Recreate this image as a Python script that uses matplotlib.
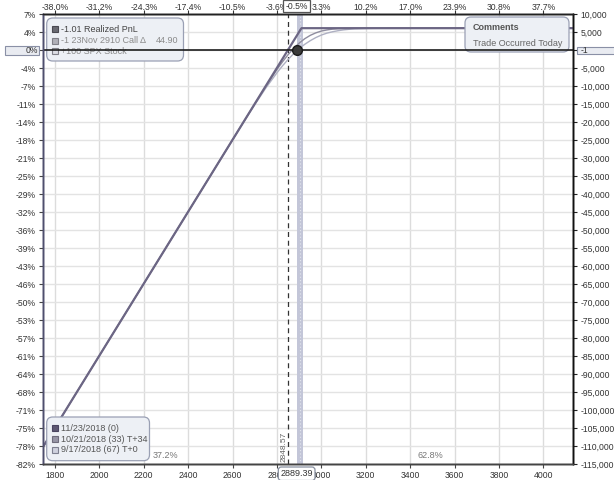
import matplotlib
matplotlib.use('Agg')
import matplotlib.pyplot as plt
from matplotlib.patches import FancyBboxPatch, Rectangle
from matplotlib.transforms import IdentityTransform

plt.rcParams['font.family'] = ['Liberation Sans', 'DejaVu Sans']

# ---------------- data ----------------
x_ticks = [1800, 2000, 2200, 2400, 2600, 2800, 3000, 3200, 3400, 3600, 3800, 4000]
bottom_labels = ['1800', '2000', '2200', '2400', '2600', '2800', '3000', '3200', '3400', '3600', '3800', '4000']
top_labels = ['-38.0%', '-31.2%', '-24.3%', '-17.4%', '-10.5%', '-3.6%', '3.3%', '10.2%',
              '17.0%', '23.9%', '30.8%', '37.7%']
y_ticks = list(range(10000, -115001, -5000))
left_labels = ['7%', '4%', '', '-4%', '-7%', '-11%', '-14%', '-18%', '-21%', '-25%', '-29%', '-32%',
               '-36%', '-39%', '-43%', '-46%', '-50%', '-53%', '-57%', '-61%', '-64%', '-68%',
               '-71%', '-75%', '-78%', '-82%']
right_labels = ['10,000', '5,000', '', '-5,000', '-10,000', '-15,000', '-20,000', '-25,000', '-30,000',
                '-35,000', '-40,000', '-45,000', '-50,000', '-55,000', '-60,000', '-65,000', '-70,000',
                '-75,000', '-80,000', '-85,000', '-90,000', '-95,000', '-100,000', '-105,000',
                '-110,000', '-115,000']

exp_x = [1740, 2910, 4140]
exp_pnl = [-110857, 6143, 6143]

t34_x = [1740, 2600, 2650, 2700, 2750, 2800, 2825, 2850, 2875, 2900, 2925, 2950, 2975, 3000,
         3025, 3050, 3075, 3100, 3150, 3200, 4140]
t34_pnl = [-110857, -24857, -19857, -14887, -10007, -5337, -3197, -1217, 513, 1993, 3213, 4153,
           4843, 5353, 5653, 5883, 6003, 6073, 6123, 6140, 6143]

t0_x = [1740, 2600, 2650, 2700, 2750, 2800, 2825, 2850, 2875, 2900, 2925, 2950, 2975, 3000,
        3025, 3050, 3075, 3100, 3125, 3150, 3200, 3250, 3300, 4140]
t0_pnl = [-110857, -24877, -19934, -15117, -10457, -6237, -4307, -2547, -957, 473, 1663, 2673,
          3533, 4233, 4763, 5143, 5443, 5673, 5830, 5963, 6063, 6113, 6133, 6143]

current_price = 2889.39
realized_pnl = -1.01
breakeven = 2848.57
band_lo, band_hi = 2891, 2918
prob_below = '37.2%'
prob_above = '62.8%'

legend_top = ['-1.01 Realized PnL', '-1 23Nov 2910 Call \u0394', '+100 SPX Stock']
legend_top_val = '44.90'
legend_bottom = ['11/23/2018 (0)', '10/21/2018 (33) T+34', '9/17/2018 (67) T+0']

# ---------------- figure ----------------
W, H = 614, 480
fig = plt.figure(figsize=(W / 100, H / 100), dpi=100)
fig.patch.set_facecolor('white')

L, R, T, B = 42.7, 573.3, 14.3, 464.0
ax = fig.add_axes([L / W, 1 - B / H, (R - L) / W, (B - T) / H])
ax.set_xlim(1744.6, 4134.7)
ax.set_ylim(-115000, 10000)
ax.set_facecolor('white')

IT = IdentityTransform()


def py(y):
    return H - y


# grid
for xv in x_ticks:
    ax.axvline(xv, color='#dcdcdc', lw=1.0, zorder=1)
for yv in y_ticks:
    ax.axhline(yv, color='#e3e3e3', lw=1.0, zorder=1)

# shaded band around current price
ax.axvspan(band_lo, band_hi, color='#c3c6d8', lw=0, zorder=2)
ax.axvline((band_lo + band_hi) / 2, color='#e4e6ee', lw=0.8, ls=(0, (1, 2)), zorder=2.1)

# breakeven dashed line
ax.axvline(breakeven, color='#333333', lw=0.9, ls=(0, (4, 3)), zorder=3)

# P&L lines
ax.plot(t0_x, t0_pnl, color='#aeb0c2', lw=1.0, zorder=4)
ax.plot(t34_x, t34_pnl, color='#8f8d9f', lw=1.0, zorder=4.2)
ax.plot(exp_x, exp_pnl, color='#6c6684', lw=1.6, zorder=4.5)

# zero line on top
ax.axhline(0, color='#1e1e1e', lw=1.2, zorder=7)
ax.plot([current_price], [realized_pnl], 'o', ms=7, color='#3a3a3a', mec='#1a1a1a', zorder=8)

# axes ticks
ax.set_xticks(x_ticks)
ax.set_xticklabels(bottom_labels)
ax.set_yticks(y_ticks)
ax.set_yticklabels(left_labels)
ax.tick_params(axis='both', labelsize=6.2, length=3, width=0.8, pad=2,
               colors='#444444', labelcolor='#333333')

ax_r = ax.twinx()
ax_r.set_ylim(ax.get_ylim())
ax_r.set_yticks(y_ticks)
ax_r.set_yticklabels(right_labels)
ax_r.tick_params(axis='y', labelsize=6.2, length=3, width=0.8, pad=2,
                 colors='#222222', labelcolor='#333333')

ax_t = ax.twiny()
ax_t.set_xlim(ax.get_xlim())
ax_t.set_xticks(x_ticks)
ax_t.set_xticklabels(top_labels)
ax_t.tick_params(axis='x', labelsize=6.2, length=3, width=0.8, pad=-1.0,
                 colors='#333333', labelcolor='#333333')

for a in (ax, ax_r, ax_t):
    for s in a.spines.values():
        s.set_linewidth(1.0)
    a.spines['left'].set_color('#4f4f6e')
    a.spines['right'].set_color('#111111')
    a.spines['top'].set_color('#222222')
    a.spines['bottom'].set_color('#444444')

# probability labels
ax.text(165, py(455), prob_below, transform=IT, ha='center', va='center', fontsize=6.5,
        color='#777777', zorder=9)
ax.text(430, py(455), prob_above, transform=IT, ha='center', va='center', fontsize=6.5,
        color='#777777', zorder=9)

# breakeven label
ax.text(284.5, py(462), f'{breakeven:.2f}', transform=IT, rotation=90, ha='center', va='bottom',
        fontsize=6, color='#666666', zorder=9)


def rbox(x0, y0, x1, y1, fc, ec, r=5, z=6, lw=0.9):
    p = FancyBboxPatch((x0, py(y1)), x1 - x0, y1 - y0,
                       boxstyle=f'round,pad=0,rounding_size={r}', transform=IT,
                       fc=fc, ec=ec, lw=lw, zorder=z, clip_on=False)
    ax.add_patch(p)
    return p


def sq(xc, yc, fc, ec, s=6, z=6.6):
    p = Rectangle((xc - s / 2, py(yc) - s / 2), s, s, transform=IT, fc=fc, ec=ec, lw=0.8,
                  zorder=z, clip_on=False)
    ax.add_patch(p)


# top-left legend
rbox(46.7, 18, 183.5, 61, '#edf0f5', '#9aa0b4', r=6, z=6)
rows_y = [29.3, 40.5, 51.0]
sq(55, rows_y[0], '#6a6a72', '#4a4a52')
sq(55, rows_y[1], '#b0b0b8', '#808088')
sq(55, rows_y[2], '#dcdde4', '#808088')
tcol = ['#444444', '#8a8a8a', '#8a8a8a']
for i, s in enumerate(legend_top):
    ax.text(60.7, py(rows_y[i]), s, transform=IT, ha='left', va='center', fontsize=6.5,
            color=tcol[i], zorder=6.5, clip_on=False)
ax.text(178.5, py(rows_y[1]), legend_top_val, transform=IT, ha='right', va='center', fontsize=6.5,
        color='#8a8a8a', zorder=6.5, clip_on=False)

# bottom-left legend
rbox(46.7, 417, 149.5, 460.7, '#edf0f5', '#9aa0b4', r=6, z=6)
rows_b = [428.3, 439.3, 450.0]
sq(55, rows_b[0], '#5e5872', '#4a4560')
sq(55, rows_b[1], '#9795a6', '#6e6c7c')
sq(55, rows_b[2], '#cfd1de', '#7e8090')
for i, s in enumerate(legend_bottom):
    ax.text(60.7, py(rows_b[i]), s, transform=IT, ha='left', va='center', fontsize=6.5,
            color='#555555', zorder=6.5, clip_on=False)

# comments box
rbox(465, 17, 569, 52, '#edf0f5', '#9aa0b4', r=6, z=6)
ax.text(473, py(27.5), 'Comments', transform=IT, ha='left', va='center', fontsize=6.5,
        color='#555555', fontweight='bold', zorder=6.5, clip_on=False)
ax.text(473, py(43), 'Trade Occurred Today', transform=IT, ha='left', va='center', fontsize=6.5,
        color='#666666', zorder=6.5, clip_on=False)

# axis value boxes (figure level, drawn above all axes)
fig.add_artist(Rectangle((5, py(55)), 34, 9, transform=IT, fc='#e9ebf1', ec='#8a90a6', lw=0.8,
                         zorder=10, clip_on=False))
fig.text(37.5, py(50.5), '0%', transform=IT, ha='right', va='center', fontsize=6.2,
         color='#333333', zorder=11)
fig.add_artist(Rectangle((577, py(54.3)), 40, 7.6, transform=IT, fc='#e9ebf1', ec='#8a90a6',
                         lw=0.8, zorder=10, clip_on=False))
fig.text(580.5, py(50.5), '-1', transform=IT, ha='left', va='center', fontsize=6.2,
         color='#333333', zorder=11)

fig.add_artist(Rectangle((283.3, py(12)), 27, 12.5, transform=IT, fc='white', ec='#555555',
                         lw=0.9, zorder=10, clip_on=False))
fig.text(296.8, py(6.3), '-0.5%', transform=IT, ha='center', va='center', fontsize=6.2,
         color='#333333', zorder=11)

fig.add_artist(FancyBboxPatch((278.3, py(480.5)), 36.7, 13.5,
                              boxstyle='round,pad=0,rounding_size=3', transform=IT, fc='white',
                              ec='#8890a0', lw=0.9, zorder=10, clip_on=False))
fig.text(296.7, py(473.5), f'{current_price:.2f}', transform=IT, ha='center', va='center',
         fontsize=6.5, color='#333333', zorder=11)

fig.savefig('out.png', dpi=100)
